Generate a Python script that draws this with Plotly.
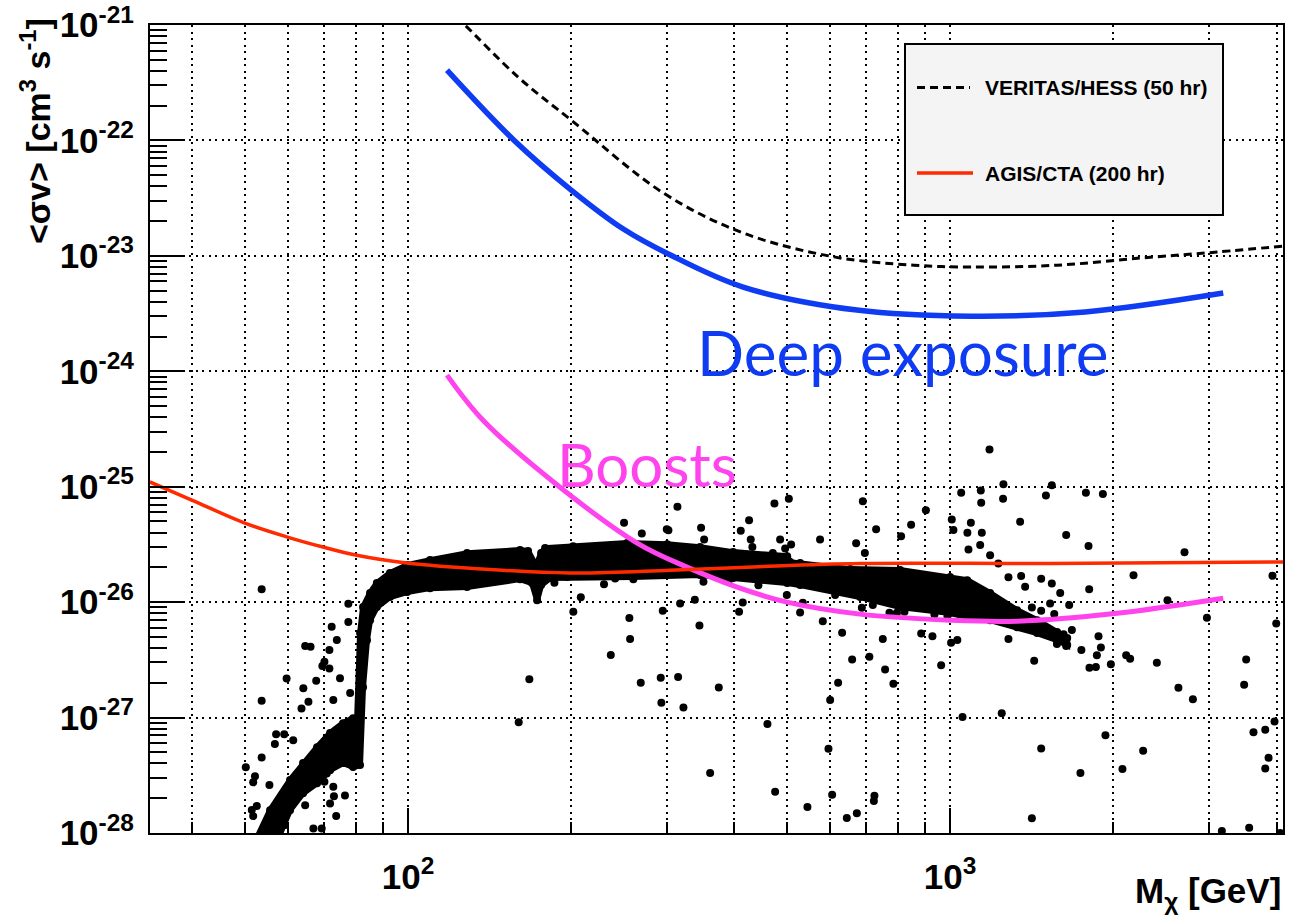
import plotly.graph_objects as go

# ---------------- data: WIMP mass [GeV] vs <sigma v> [cm^3 s^-1] ----------------
hess_mass = [118, 126, 160, 200, 296, 415, 611, 858, 1093, 1574, 2259, 3109, 4150]
hess_sigv = [1.4e-21, 1.05e-21, 3.5e-22, 1.5e-22, 3.5e-23, 1.58e-23, 9.8e-24,
             8.3e-24, 8.0e-24, 8.3e-24, 9.6e-24, 1.08e-23, 1.22e-23]

deep_mass = [118, 157, 200, 250, 302, 415, 673, 1093, 1774, 3190]
deep_sigv = [4.07e-22, 1.0e-22, 3.72e-23, 1.7e-23, 1.04e-23, 5.37e-24, 3.39e-24,
             3.0e-24, 3.26e-24, 4.76e-24]

boost_mass = [118, 137.5, 190.7, 264.6, 327, 404.6, 500, 682, 1000, 1329, 2032, 3190]
boost_sigv = [9.27e-25, 3.77e-25, 9.9e-26, 3.25e-26, 2.01e-26, 1.35e-26, 1.0e-26,
              7.87e-27, 6.98e-27, 6.84e-27, 8.0e-27, 1.08e-26]

cta_mass = [33.4, 39.9, 50, 59.7, 69.7, 80.4, 99.5, 114.6, 199, 304, 433, 682, 1530, 4111]
cta_sigv = [1.10e-25, 7.66e-26, 4.84e-26, 3.68e-26, 3.0e-26, 2.55e-26, 2.18e-26,
            2.05e-26, 1.79e-26, 1.89e-26, 2.02e-26, 2.16e-26, 2.16e-26, 2.23e-26]

# dense region of model points: upper and lower envelope
band_upper_mass = [52.0, 55.65, 60.58, 64.02, 67.95, 71.81, 75.89, 79.18, 80.53, 81.56,
                   82.6, 85.1, 87.6, 92.6, 99.6, 109.8, 128.5, 160.9, 166.5, 172.3,
                   176.0, 179.0, 201.6, 253.6, 300.6, 345.7, 397.8, 500.4, 506.8,
                   528.7, 654, 808.7, 1000, 1075, 1185, 1329, 1447, 1575, 1644]
band_upper_sigv = [8e-29, 1.576e-28, 2.87e-28, 4.03e-28, 5.54e-28, 7.33e-28, 8.94e-28,
                   9.88e-28, 9.49e-28, 5.39e-27, 9.05e-27, 1.197e-26, 1.461e-26,
                   1.784e-26, 2.092e-26, 2.312e-26, 2.658e-26, 2.823e-26, 2.767e-26,
                   2.051e-26, 2.658e-26, 2.937e-26, 3.056e-26, 3.245e-26, 3.18e-26,
                   2.996e-26, 2.712e-26, 2.503e-26, 2.221e-26, 2.178e-26, 1.932e-26,
                   1.894e-26, 1.647e-26, 1.55e-26, 1.197e-26, 8.52e-27, 6.98e-27,
                   5.5e-27, 4.88e-27]
band_lower_mass = [57.0, 60.58, 64.02, 67.95, 71.81, 75.89, 79.18, 81.56, 82.6, 84.0,
                   85.1, 87.6, 92.6, 99.6, 109.8, 128.5, 160.9, 169.3, 173.0, 176.0,
                   182.8, 196.5, 260.1, 345.7, 397.8, 500.4, 528.7, 682.3, 808.7,
                   1000, 1075, 1185, 1329, 1447, 1575, 1644]
band_lower_sigv = [8e-29, 1.576e-28, 2.21e-28, 2.70e-28, 3.50e-28, 4.03e-28, 3.72e-28,
                   3.87e-28, 1.834e-27, 4.68e-27, 6.98e-27, 9.05e-27, 1.105e-26,
                   1.221e-26, 1.322e-26, 1.349e-26, 1.582e-26, 1.461e-26, 1.04e-26,
                   1.404e-26, 1.614e-26, 1.647e-26, 1.647e-26, 1.714e-26, 1.614e-26,
                   1.461e-26, 1.404e-26, 1.105e-26, 9.05e-27, 8.03e-27, 7.41e-27,
                   6.98e-27, 6.07e-27, 5.39e-27, 4.68e-27, 4.24e-27]

# scattered individual model points
scatter_mass = [
    53.7, 53.7, 53.7, 50.2, 52.2, 51.8, 51.5, 51.8, 59.7, 64.1, 64.6, 66.1, 72.3, 73.9,
    77.6, 77.6, 78.2, 67.7, 69.5, 71.6, 74.9, 59.3, 66.9, 69.3, 57.1, 59.1, 56.8, 61.4,
    63.6, 69.8, 66.4, 70.1, 72.8, 73.0, 76.5, 64.6, 71.8, 73.7, 52.6, 55.5, 62.3, 66.4,
    70.8, 65.5, 70.1, 71.6, 72.8,
    160, 167.4, 186.2, 201.8, 208.3, 229.9, 236.6, 241, 250.3, 256, 256.8, 260.4, 268.7,
    269.9, 292.5, 293.3, 295, 300.1, 302.2, 314, 314.9, 317.6, 322.1, 338.1, 344.8, 347.2,
    351.7, 350.7, 360.8, 374.3, 389.9, 408, 410.9, 414.4, 425.7, 428.7, 431.7, 442.9,
    460.2, 470.9, 474.1, 475.5, 485.7, 496.2, 504, 508.9, 528.7, 534.8, 499.7, 545.4,
    575.5, 582.2, 596.4, 600.7, 605.8, 613.6, 621.4, 632, 644.7, 659.5, 672.8, 670.8,
    690.1, 687.2, 720, 730.2, 709.6, 751.2, 758.6, 785.8, 723.2, 811.9, 847.2, 884.2,
    902.1, 927.6, 962.5, 696.1,
    1004, 1031, 1007, 1048, 1054, 1014, 1076, 1092, 1139, 1141, 1144, 1182, 1081, 1136,
    1185, 1245, 1254, 1252, 1281, 1281, 1346, 1352, 1375, 1415, 1415, 1429, 1472, 1472,
    1502, 1540, 1540, 1596, 1637, 1658, 1739, 1746, 1780, 1800, 1805, 1807, 1857, 1878,
    1865, 1913, 1934, 1979, 2079, 2112, 2148, 2179, 2270, 2406, 2517, 2637, 2706, 2804,
    2976, 3171, 3486, 3516, 3561, 3627, 3813, 3867, 3813, 3966, 3932, 3995, 4064, 725,
    1519, 1619, 1574, 1637, 1677, 1556, 1529, 1472, 772.7, 797.6, 823.7, 935.4, 988.6,
    1227, 1897,
]
scatter_sigv = [
    1.29e-26, 1.40e-27, 4.51e-28, 3.70e-28, 3.10e-28, 2.75e-28, 1.58e-28, 1.40e-28,
    2.18e-27, 1.79e-27, 4.16e-27, 4.10e-27, 6.11e-27, 4.69e-27, 9.7e-27, 6.71e-27,
    1.63e-27, 2.08e-27, 2.79e-27, 2.66e-27, 2.19e-27, 1.17e-28, 1.09e-28, 1.09e-28,
    7.18e-28, 7.18e-28, 5.89e-28, 6.37e-28, 1.20e-27, 3.74e-28, 2.72e-28, 2.77e-28,
    2.51e-28, 2.08e-28, 2.11e-28, 1.74e-28, 1.80e-28, 1.40e-28, 1.71e-28, 2.60e-28,
    2.20e-28, 3.06e-28, 3.28e-28, 1.37e-27, 3.04e-27, 3.84e-27, 1.42e-27,
    9.08e-28, 2.15e-27, 1.47e-26, 8.24e-27, 1.10e-26, 1.43e-26, 3.49e-27, 1.60e-26,
    4.86e-26, 7.27e-27, 4.78e-27, 1.58e-26, 2.00e-27, 3.94e-26, 2.21e-27, 1.34e-27,
    8.41e-27, 4.27e-26, 4.2e-26, 6.70e-26, 2.24e-27, 9.75e-27, 1.22e-27, 1.05e-26,
    6.28e-27, 4.41e-26, 3.49e-26, 1.50e-26, 3.30e-28, 1.82e-27, 1.50e-26, 8.24e-27,
    4.15e-26, 9.93e-27, 5.11e-26, 3.49e-26, 3.01e-26, 1.40e-26, 8.81e-28, 2.67e-26,
    7.16e-26, 2.27e-28, 3.49e-26, 2.92e-26, 7.85e-26, 3.16e-26, 8.11e-27, 9.86e-27,
    1.15e-26, 1.68e-28, 3.49e-26, 6.81e-27, 5.36e-28, 1.42e-27, 2.14e-28, 1.15e-26,
    2.00e-27, 5.42e-27, 1.35e-28, 3.19e-27, 1.48e-28, 3.23e-26, 7.50e-26, 8.93e-27,
    9.42e-27, 4.27e-26, 3.36e-27, 4.78e-27, 2.61e-27, 1.96e-27, 1.89e-28, 3.73e-26,
    4.68e-26, 5.36e-27, 6.24e-26, 5.07e-27, 2.84e-27, 2.67e-26,
    4.44e-27, 4.69e-27, 5.21e-26, 8.85e-26, 1.01e-27, 4.21e-26, 3.99e-26, 4.86e-26,
    9.29e-26, 7.25e-26, 3.99e-26, 2.10e-25, 2.86e-26, 3.12e-26, 2.55e-26, 1.09e-27,
    1.05e-25, 7.85e-26, 1.64e-26, 4.78e-27, 4.97e-26, 1.68e-26, 1.36e-26, 9.0e-27,
    1.34e-28, 3.10e-27, 1.59e-26, 5.40e-28, 8.41e-26, 1.03e-25, 1.45e-26, 1.20e-26,
    3.81e-26, 9.42e-27, 3.30e-28, 3.84e-27, 8.85e-26, 3.06e-26, 1.29e-26, 2.70e-27,
    2.74e-27, 5.07e-27, 3.47e-27, 8.63e-26, 7.03e-28, 2.90e-27, 3.59e-28, 3.47e-27,
    3.23e-27, 1.71e-26, 5.15e-28, 2.98e-27, 1.04e-26, 1.81e-27, 2.70e-26, 1.44e-27,
    7.31e-27, 1.04e-28, 1.92e-27, 3.19e-27, 1.11e-28, 7.46e-28, 7.82e-28, 4.48e-28,
    3.62e-28, 9.25e-28, 1.69e-26, 6.53e-27, 1.0e-28, 2.10e-28,
    5.80e-27, 5.28e-27, 4.33e-27, 4.16e-27, 5.72e-27, 7.87e-27, 9.75e-27, 8.41e-27,
    8.07e-27, 8.07e-27, 8.24e-27, 7.82e-27, 7.57e-27, 2.16e-26, 4.05e-27,
]

x_major = [100, 1000]
x_major_text = ["10<sup>2</sup>", "10<sup>3</sup>"]
x_minor = [40, 50, 60, 70, 80, 90, 200, 300, 400, 500, 600, 700, 800, 900, 2000, 3000, 4000]
y_exponents = list(range(-28, -20))
y_major = [10.0 ** e for e in y_exponents]
y_major_text = ["10<sup>%d</sup>" % e for e in y_exponents]
y_minor = [k * 10.0 ** e for e in y_exponents[:-1] for k in range(2, 10)]

legend_labels = ["VERITAS/HESS (50 hr)", "AGIS/CTA (200 hr)"]

# ---------------- styling ----------------
FONT = "Liberation Sans"
RED = "#ff2a00"
BLUE = "#0f3cf2"
MAGENTA = "#ff44ee"
GRID_DASH = "2px,4.5px"

W, H = 1291, 920
ML, MR, MT, MB = 150, 8, 25, 87
PW, PH = W - ML - MR, H - MT - MB


def px(x):
    return (x - ML) / PW


def py(y):
    return (H - MB - y) / PH


fig = go.Figure()

# dense band of model points (outline dotted with markers like the individual points)
band_x = band_upper_mass + band_lower_mass[::-1] + [band_upper_mass[0]]
band_y = band_upper_sigv + band_lower_sigv[::-1] + [band_upper_sigv[0]]
fig.add_trace(go.Scatter(x=band_x, y=band_y, mode="lines+markers", fill="toself",
                         fillcolor="black", line=dict(color="black", width=6),
                         marker=dict(color="black", size=8),
                         hoverinfo="skip", showlegend=False))

fig.add_trace(go.Scatter(x=scatter_mass, y=scatter_sigv, mode="markers",
                         marker=dict(color="black", size=8, line=dict(width=0)),
                         showlegend=False))

fig.add_trace(go.Scatter(x=hess_mass, y=hess_sigv, mode="lines",
                         line=dict(color="black", width=3, dash="8px,5px",
                                   shape="spline", smoothing=1.0),
                         name=legend_labels[0], showlegend=False))
fig.add_trace(go.Scatter(x=deep_mass, y=deep_sigv, mode="lines",
                         line=dict(color=BLUE, width=5.5, shape="spline", smoothing=1.0),
                         showlegend=False))
fig.add_trace(go.Scatter(x=boost_mass, y=boost_sigv, mode="lines",
                         line=dict(color=MAGENTA, width=5, shape="spline", smoothing=1.0),
                         showlegend=False))
fig.add_trace(go.Scatter(x=cta_mass, y=cta_sigv, mode="lines",
                         line=dict(color=RED, width=3.5, shape="spline", smoothing=1.0),
                         name=legend_labels[1], showlegend=False))

axis_common = dict(
    type="log", showline=True, linecolor="black", linewidth=2, mirror=True,
    ticks="inside", tickcolor="black", tickwidth=1.5, automargin=False,
    showgrid=True, gridcolor="black", gridwidth=1.5, griddash=GRID_DASH,
    zeroline=False, tickmode="array",
    tickfont=dict(family=FONT, size=35, color="black", weight="bold"),
)

fig.update_xaxes(
    **axis_common,
    range=[1.524, 3.614],
    tickvals=x_major, ticktext=x_major_text, ticklen=25, ticklabelstandoff=12,
    minor=dict(tickmode="array", tickvals=x_minor, ticks="inside", ticklen=11,
               tickcolor="black", tickwidth=1.5, showgrid=True, gridcolor="black",
               gridwidth=1.5, griddash=GRID_DASH),
)
fig.update_yaxes(
    **axis_common,
    range=[-28.0005, -20.9995],
    tickvals=y_major, ticktext=y_major_text, ticklen=33, ticklabelstandoff=7,
    minor=dict(tickmode="array", tickvals=y_minor, ticks="inside", ticklen=17,
               tickcolor="black", tickwidth=1.5, showgrid=False),
)

# legend box drawn as a panel inside the frame
lx0, lx1, ly0, ly1 = 905, 1223, 44, 215
shapes = [
    dict(type="rect", xref="paper", yref="paper", x0=px(lx0), x1=px(lx1),
         y0=py(ly1), y1=py(ly0), fillcolor="#f4f4f4",
         line=dict(color="black", width=2), layer="above"),
    dict(type="line", xref="paper", yref="paper", x0=px(917), x1=px(970),
         y0=py(87.5), y1=py(87.5), line=dict(color="black", width=3, dash="8px,5px"),
         layer="above"),
    dict(type="line", xref="paper", yref="paper", x0=px(917), x1=px(973),
         y0=py(173), y1=py(173), line=dict(color=RED, width=3.5), layer="above"),
]

annotations = [
    dict(text=legend_labels[0], xref="paper", yref="paper", x=px(983), y=py(88),
         xanchor="left", yanchor="middle", showarrow=False,
         font=dict(family=FONT, size=21, color="black", weight="bold")),
    dict(text=legend_labels[1], xref="paper", yref="paper", x=px(983), y=py(173),
         xanchor="left", yanchor="middle", showarrow=False,
         font=dict(family=FONT, size=21, color="black", weight="bold")),
    dict(text="Deep exposure", xref="paper", yref="paper", x=px(695), y=py(352),
         xanchor="left", yanchor="middle", showarrow=False,
         font=dict(family="Lato", size=62, color=BLUE)),
    dict(text="Boosts", xref="paper", yref="paper", x=px(555), y=py(464),
         xanchor="left", yanchor="middle", showarrow=False,
         font=dict(family="Lato", size=60, color=MAGENTA)),
    dict(text="M<sub>χ</sub> [GeV]", xref="paper", yref="paper", x=1.0, y=py(893),
         xanchor="right", yanchor="middle", showarrow=False,
         font=dict(family=FONT, size=35, color="black", weight="bold")),
    dict(text="&lt;σv&gt; [cm<sup>3</sup> s<sup>-1</sup>]", xref="paper", yref="paper",
         x=px(35), y=py(16), xanchor="center", yanchor="top", textangle=-90,
         showarrow=False,
         font=dict(family=FONT, size=34, color="black", weight="bold")),
]

fig.update_layout(
    width=W, height=H,
    margin=dict(l=ML, r=MR, t=MT, b=MB, pad=0, autoexpand=False),
    paper_bgcolor="white", plot_bgcolor="white",
    showlegend=False, shapes=shapes, annotations=annotations,
)

fig.write_html("out.html")
